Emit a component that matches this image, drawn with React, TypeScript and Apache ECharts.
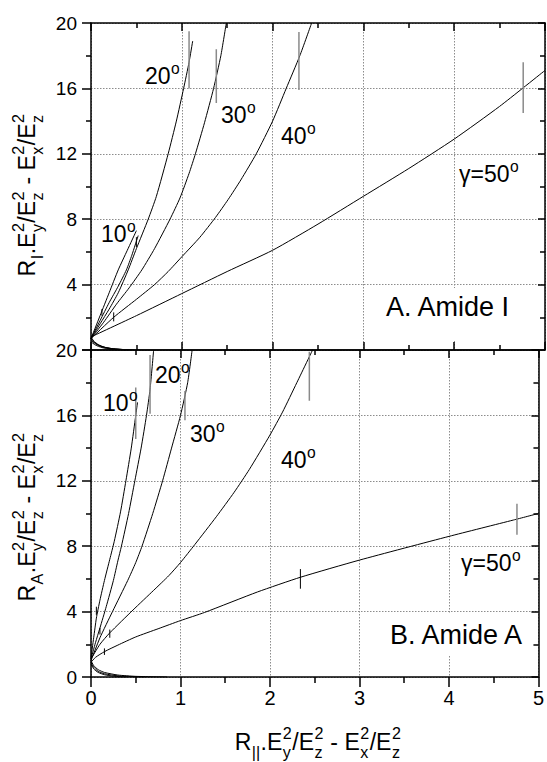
import React, { useEffect, useRef } from 'react';
import * as echarts from 'echarts';

const FF = '"Liberation Sans", Arial, Helvetica, sans-serif';

// ---------- Panel A (Amide I) curves: [x, y] ----------
const a10a = [[0, 0.7], [0.1, 2.1], [0.2, 3.5], [0.3, 4.9], [0.4, 6.1], [0.5, 7.3]];
const a10b = [[0, 0.7], [0.1, 1.8], [0.2, 2.9], [0.3, 3.9], [0.39, 4.9], [0.45, 5.8], [0.52, 7.0]];
const a20 = [[0, 0.7], [0.1, 1.6], [0.2, 2.5], [0.3, 3.5], [0.41, 4.9], [0.5, 6.2], [0.63, 8], [0.72, 9.4], [0.85, 12], [0.94, 14], [1.02, 16], [1.08, 17.6], [1.12, 18.9]];
const a30 = [[0, 0.7], [0.14, 1.7], [0.28, 2.8], [0.42, 3.8], [0.56, 4.9], [0.7, 6.2], [0.87, 8], [0.98, 9.3], [1.08, 10.8], [1.15, 12], [1.25, 13.9], [1.35, 16], [1.43, 18], [1.49, 20]];
const a40 = [[0, 0.7], [0.25, 2.0], [0.5, 3.1], [0.7, 4.0], [0.85, 4.8], [1.0, 5.7], [1.2, 6.9], [1.37, 8.1], [1.51, 9.2], [1.65, 10.4], [1.82, 12], [2.0, 14.0], [2.15, 16], [2.3, 18.0], [2.43, 20]];
const a50 = [[0, 0.8], [0.5, 2.1], [1.0, 3.45], [1.5, 4.8], [2.0, 6.1], [2.5, 7.7], [3.0, 9.4], [3.5, 11.1], [4.0, 12.9], [4.5, 14.9], [5.0, 17.1]];
const aLow1 = [[0, 0.8], [0.03, 0.55], [0.08, 0.33], [0.15, 0.17], [0.25, 0.07], [0.4, 0.01]];
const aLow2 = [[0, 0.7], [0.04, 0.45], [0.1, 0.25], [0.2, 0.1], [0.35, 0.03], [0.48, 0]];
const aLow3 = [[0, 0.6], [0.05, 0.38], [0.12, 0.2], [0.25, 0.07], [0.45, 0]];
const aLow4 = [[0, 0.5], [0.05, 0.3], [0.12, 0.15], [0.22, 0.05], [0.38, 0]];
// error bars [x, low, high]
const aBarsGray = [[1.08, 16.0, 19.5], [1.38, 15.1, 18.4], [2.29, 15.9, 19.45], [4.76, 14.5, 17.6]];
const aBarsBlack = [[0.5, 6.3, 6.9], [0.25, 1.75, 2.3], [0.12, 2.1, 2.5]];

// ---------- Panel B (Amide A) curves ----------
const b10 = [[0, 1.2], [0.03, 2.4], [0.06, 3.6], [0.1, 4.7], [0.15, 5.9], [0.21, 7.2], [0.26, 8.3], [0.33, 10.1], [0.39, 12], [0.45, 14], [0.5, 16], [0.52, 16.8]];
const b20 = [[0, 1.1], [0.05, 2.1], [0.1, 3.0], [0.17, 4.3], [0.25, 5.9], [0.3, 7.1], [0.34, 8], [0.42, 10], [0.49, 12], [0.56, 14], [0.62, 16], [0.66, 17.6], [0.7, 20]];
const b30 = [[0, 1.0], [0.1, 2.4], [0.24, 4.0], [0.41, 5.9], [0.5, 7.0], [0.57, 8], [0.69, 10], [0.8, 12], [0.9, 14], [1.0, 16], [1.08, 18], [1.13, 20]];
const b40 = [[0, 1.1], [0.1, 2.0], [0.21, 2.7], [0.47, 4.1], [0.7, 5.3], [0.87, 6.2], [1.0, 7.0], [1.16, 8.1], [1.4, 9.8], [1.6, 11.3], [1.77, 12.7], [2.0, 14.8], [2.14, 16.2], [2.3, 18], [2.52, 20.5]];
const b50 = [[0, 0.9], [0.05, 1.2], [0.15, 1.55], [0.3, 1.95], [0.5, 2.45], [0.75, 2.95], [1.0, 3.45], [1.27, 3.95], [1.86, 5.2], [2.34, 6.1], [3.0, 7.15], [4.0, 8.6], [4.72, 9.6], [5.0, 10.0]];
const bLow1 = [[0, 1.0], [0.03, 0.7], [0.08, 0.45], [0.15, 0.28], [0.3, 0.12], [0.5, 0.04], [0.85, 0]];
const bLow2 = [[0, 0.9], [0.03, 0.6], [0.08, 0.35], [0.15, 0.2], [0.3, 0.07], [0.6, 0]];
const bLow3 = [[0, 0.8], [0.03, 0.5], [0.08, 0.28], [0.15, 0.14], [0.25, 0.05], [0.4, 0]];
const bBarsGray = [[0.5, 14.55, 17.7], [0.66, 16.1, 19.7], [1.05, 15.7, 17.5], [2.44, 16.9, 19.9], [4.76, 8.7, 10.6]];
const bBarsBlack = [[0.06, 3.8, 4.3], [0.1, 2.6, 3.0], [0.21, 2.4, 2.9], [0.15, 1.35, 1.75], [2.34, 5.4, 6.6]];

// ---------- texts ----------
const angleLabelsA = [
  { t: '10', x: 101, y: 234 },
  { t: '20', x: 145, y: 76 },
  { t: '30', x: 221, y: 115 },
  { t: '40', x: 281, y: 136 },
  { t: 'γ=50', x: 459, y: 174 },
];
const angleLabelsB = [
  { t: '10', x: 103, y: 403 },
  { t: '20', x: 155, y: 375 },
  { t: '30', x: 190, y: 434 },
  { t: '40', x: 281, y: 460 },
  { t: 'γ=50', x: 461, y: 563 },
];

type Tok = { t: string; sup?: string; sub?: string };
const titleX: Tok[] = [{ t: 'R', sub: '||' }, { t: '.E', sup: '2', sub: 'y' }, { t: '/E', sup: '2', sub: 'z' }, { t: ' - E', sup: '2', sub: 'x' }, { t: '/E', sup: '2', sub: 'z' }];
const titleYA: Tok[] = [{ t: 'R', sub: 'I' }, { t: '.E', sup: '2', sub: 'y' }, { t: '/E', sup: '2', sub: 'z' }, { t: ' - E', sup: '2', sub: 'x' }, { t: '/E', sup: '2', sub: 'z' }];
const titleYB: Tok[] = [{ t: 'R', sub: 'A' }, { t: '.E', sup: '2', sub: 'y' }, { t: '/E', sup: '2', sub: 'z' }, { t: ' - E', sup: '2', sub: 'x' }, { t: '/E', sup: '2', sub: 'z' }];

let ctx: CanvasRenderingContext2D | null = null;
function measure(text: string, size: number) {
  if (!ctx) ctx = document.createElement('canvas').getContext('2d');
  ctx!.font = `${size}px "Liberation Sans"`;
  return ctx!.measureText(text).width;
}

function txt(text: string, x: number, y: number, size: number, align = 'left', z = 10) {
  return {
    type: 'text', x, y, z, silent: true,
    style: { text, font: `${size}px ${FF}`, fill: '#000', align, verticalAlign: 'middle', textAlign: align, textVerticalAlign: 'middle' },
  };
}

function degLabel(text: string, x: number, y: number, fs: number) {
  const w = measure(text, fs);
  return {
    type: 'group', x, y, children: [
      txt(text, 0, 0, fs),
      txt('o', w + 0.5, -0.33 * fs, fs * 0.68),
    ],
  };
}

function formula(tokens: Tok[], fs: number, cx: number, cy: number, rotation: number) {
  const small = fs * 0.7;
  let x = 0;
  const kids: any[] = [];
  tokens.forEach((tok) => {
    kids.push(txt(tok.t, x, 0, fs));
    x += measure(tok.t, fs);
    let adv = 0;
    if (tok.sup) {
      kids.push(txt(tok.sup, x + 0.5, -0.41 * fs, small));
      adv = Math.max(adv, measure(tok.sup, small));
    }
    if (tok.sub) {
      kids.push(txt(tok.sub, x + 0.5, 0.45 * fs, small));
      adv = Math.max(adv, measure(tok.sub, small));
    }
    x += adv + (adv ? 1 : 0);
  });
  kids.forEach((k) => { k.x -= x / 2; });
  return { type: 'group', x: cx, y: cy, rotation, children: kids };
}

const curveStyle = { color: '#000', width: 1 };

function curve(data: number[][], panel: number) {
  return {
    type: 'line', xAxisIndex: panel * 2, yAxisIndex: panel * 2, data,
    showSymbol: false, symbol: 'none', smooth: 0.2, silent: true, clip: true, z: 3,
    lineStyle: curveStyle,
  };
}
function bar(b: number[], panel: number, color: string, width: number) {
  return {
    type: 'line', xAxisIndex: panel * 2, yAxisIndex: panel * 2,
    data: [[b[0], b[1]], [b[0], b[2]]],
    showSymbol: false, symbol: 'none', silent: true, clip: true, z: 4,
    lineStyle: { color, width },
  };
}

const axisLine = { show: true, onZero: false, lineStyle: { color: '#000', width: 1.5 } };
const split = { show: true, lineStyle: { color: '#8c8c8c', type: [1.5, 1.5], width: 1 } };
const tickStyle = { color: '#000', width: 1.5 };

function xAx(grid: number, position: string, inside: boolean, len: number, mlen: number, labels: boolean, grids: boolean) {
  return {
    gridIndex: grid, type: 'value', min: 0, max: 5, interval: 1, position,
    axisLine, axisTick: { show: true, inside, length: len, lineStyle: tickStyle },
    minorTick: { show: true, splitNumber: 2, length: mlen, lineStyle: tickStyle },
    axisLabel: labels ? { show: true, fontSize: 20, fontFamily: FF, color: '#000', margin: 11 } : { show: false },
    splitLine: grids ? split : { show: false },
  };
}
function yAx(grid: number, position: string, inside: boolean, len: number, mlen: number, labels: boolean, grids: boolean, showMin: boolean) {
  return {
    gridIndex: grid, type: 'value', min: 0, max: 20, interval: 4, position,
    axisLine, axisTick: { show: true, inside, length: len, lineStyle: tickStyle },
    minorTick: { show: true, splitNumber: 2, length: mlen, lineStyle: tickStyle },
    axisLabel: labels ? { show: true, fontSize: 19, fontFamily: FF, color: '#000', margin: 14, showMinLabel: showMin } : { show: false },
    splitLine: grids ? split : { show: false },
  };
}

export default function App() {
  const ref = useRef<HTMLDivElement>(null);
  useEffect(() => {
    if (!ref.current) return;
    const chart = echarts.init(ref.current, undefined, { renderer: 'svg' });
    const series: any[] = [];
    [a10a, a10b, a20, a30, a40, a50, aLow1, aLow2, aLow3, aLow4].forEach((d) => series.push(curve(d, 0)));
    [b10, b20, b30, b40, b50, bLow1, bLow2, bLow3].forEach((d) => series.push(curve(d, 1)));
    aBarsGray.forEach((b) => series.push(bar(b, 0, '#8a8a8a', 1.5)));
    aBarsBlack.forEach((b) => series.push(bar(b, 0, '#000', 1)));
    bBarsGray.forEach((b) => series.push(bar(b, 1, '#8a8a8a', 1.5)));
    bBarsBlack.forEach((b) => series.push(bar(b, 1, '#000', 1)));

    const graphics: any[] = [
      { type: 'rect', shape: { x: 380, y: 288, width: 142, height: 53 }, style: { fill: '#fff' }, z: 1, silent: true },
      { type: 'rect', shape: { x: 383, y: 613, width: 150, height: 42 }, style: { fill: '#fff' }, z: 1, silent: true },
      txt('A. Amide I', 386, 306.5, 27),
      txt('B. Amide A', 390, 634.5, 27),
      ...angleLabelsA.map((l) => degLabel(l.t, l.x, l.y, 23)),
      ...angleLabelsB.map((l) => degLabel(l.t, l.x, l.y, 23)),
      formula(titleX, 23, 318, 742, 0),
      formula(titleYA, 23, 27, 195, Math.PI / 2),
      formula(titleYB, 23, 27, 517, Math.PI / 2),
    ];

    chart.setOption({
      animation: false,
      backgroundColor: '#fff',
      grid: [
        { left: 91, top: 23, width: 454, height: 327 },
        { left: 91, top: 350, width: 454, height: 327 },
      ],
      xAxis: [
        xAx(0, 'bottom', true, 8, 5, false, true),
        xAx(0, 'top', true, 8, 5, false, false),
        xAx(1, 'bottom', false, 10, 6, true, true),
        xAx(1, 'top', true, 8, 5, false, false),
      ],
      yAxis: [
        yAx(0, 'left', false, 9, 5, true, true, false),
        yAx(0, 'right', true, 7, 5, false, false, false),
        yAx(1, 'left', false, 9, 5, true, true, true),
        yAx(1, 'right', true, 7, 5, false, false, false),
      ],
      series,
      graphic: graphics,
    });
    return () => chart.dispose();
  }, []);
  return <div ref={ref} style={{ position: 'absolute', left: 0, top: 0, width: 547, height: 762 }} />;
}
